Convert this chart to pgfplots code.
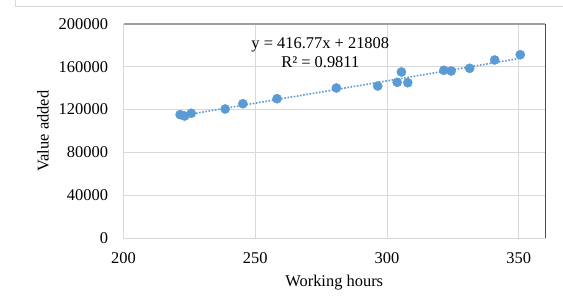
\documentclass[border=0pt]{standalone}
\usepackage{pgfplots}
\pgfplotsset{compat=1.18}
\usepackage{fontspec}
\setmainfont{Liberation Serif}
\definecolor{dotblue}{HTML}{5B9BD5}
\definecolor{gridgray}{HTML}{D9D9D9}
\begin{document}
\begin{tikzpicture}[x=1bp,y=1bp]
\useasboundingbox (0,0) rectangle (563,302);
\draw[gridgray, line width=1bp] (15,302) -- (15,295) -- (563,295);
\begin{axis}[
  at={(123.5bp,64bp)}, anchor=south west,
  scale only axis, width=421.5bp, height=214bp,
  xmin=200, xmax=360, ymin=0, ymax=200000,
  xtick={200,250,300,350},
  ytick={0,40000,80000,120000,160000,200000},
  scaled y ticks=false,
  /pgf/number format/fixed,
  /pgf/number format/1000 sep={},
  /pgf/number format/assume math mode=true,
  grid=major,
  major grid style={gridgray, line width=0.8bp},
  axis line style={gridgray, line width=0.8bp},
  tick style={draw=none},
  font=\rmfamily\fontsize{16.5}{19}\selectfont,
  ticklabel style={font=\rmfamily\fontsize{16.5}{19}\selectfont},
  yticklabel style={xshift=-12bp},
  xticklabel style={yshift=-11bp},
  xlabel={Working hours},
  ylabel={Value added},
  every axis x label/.style={at={(axis description cs:0.5,-0.21)}, anchor=center},
  every axis y label/.style={at={(axis description cs:-0.191,0.5)}, rotate=90, anchor=center},
  clip=false,
]
\addplot[dotblue, line width=1.6bp, dash pattern=on 1.6bp off 1.6bp, forget plot] coordinates {
  (221.5,114121) (350.6,167929)
};
\addplot[only marks, mark=*, mark size=4.6bp, color=dotblue, mark options={draw=dotblue, fill=dotblue}] coordinates {
  (221.5,115300) (223.2,114000) (225.7,116540) (238.6,120560) (245.3,125500)
  (258.3,130190) (280.8,140190) (296.5,142060) (303.9,145510) (305.5,155140)
  (307.9,145140) (321.6,156730) (324.4,156070) (331.4,158600) (340.9,166360)
  (350.6,171310)
};
\node[font=\rmfamily\fontsize{16.5}{19}\selectfont] at (axis cs:274.7,180374) {y = 416.77x + 21808};
\node[font=\rmfamily\fontsize{16.5}{19}\selectfont] at (axis cs:274.7,164486) {R² = 0.9811};
\draw[gray!75, line width=1.6bp] (axis description cs:0,1) -- (axis description cs:1,1);
\draw[black!70, line width=1bp] (axis description cs:1,0) -- (axis description cs:1,1);
\end{axis}
\end{tikzpicture}
\end{document}
